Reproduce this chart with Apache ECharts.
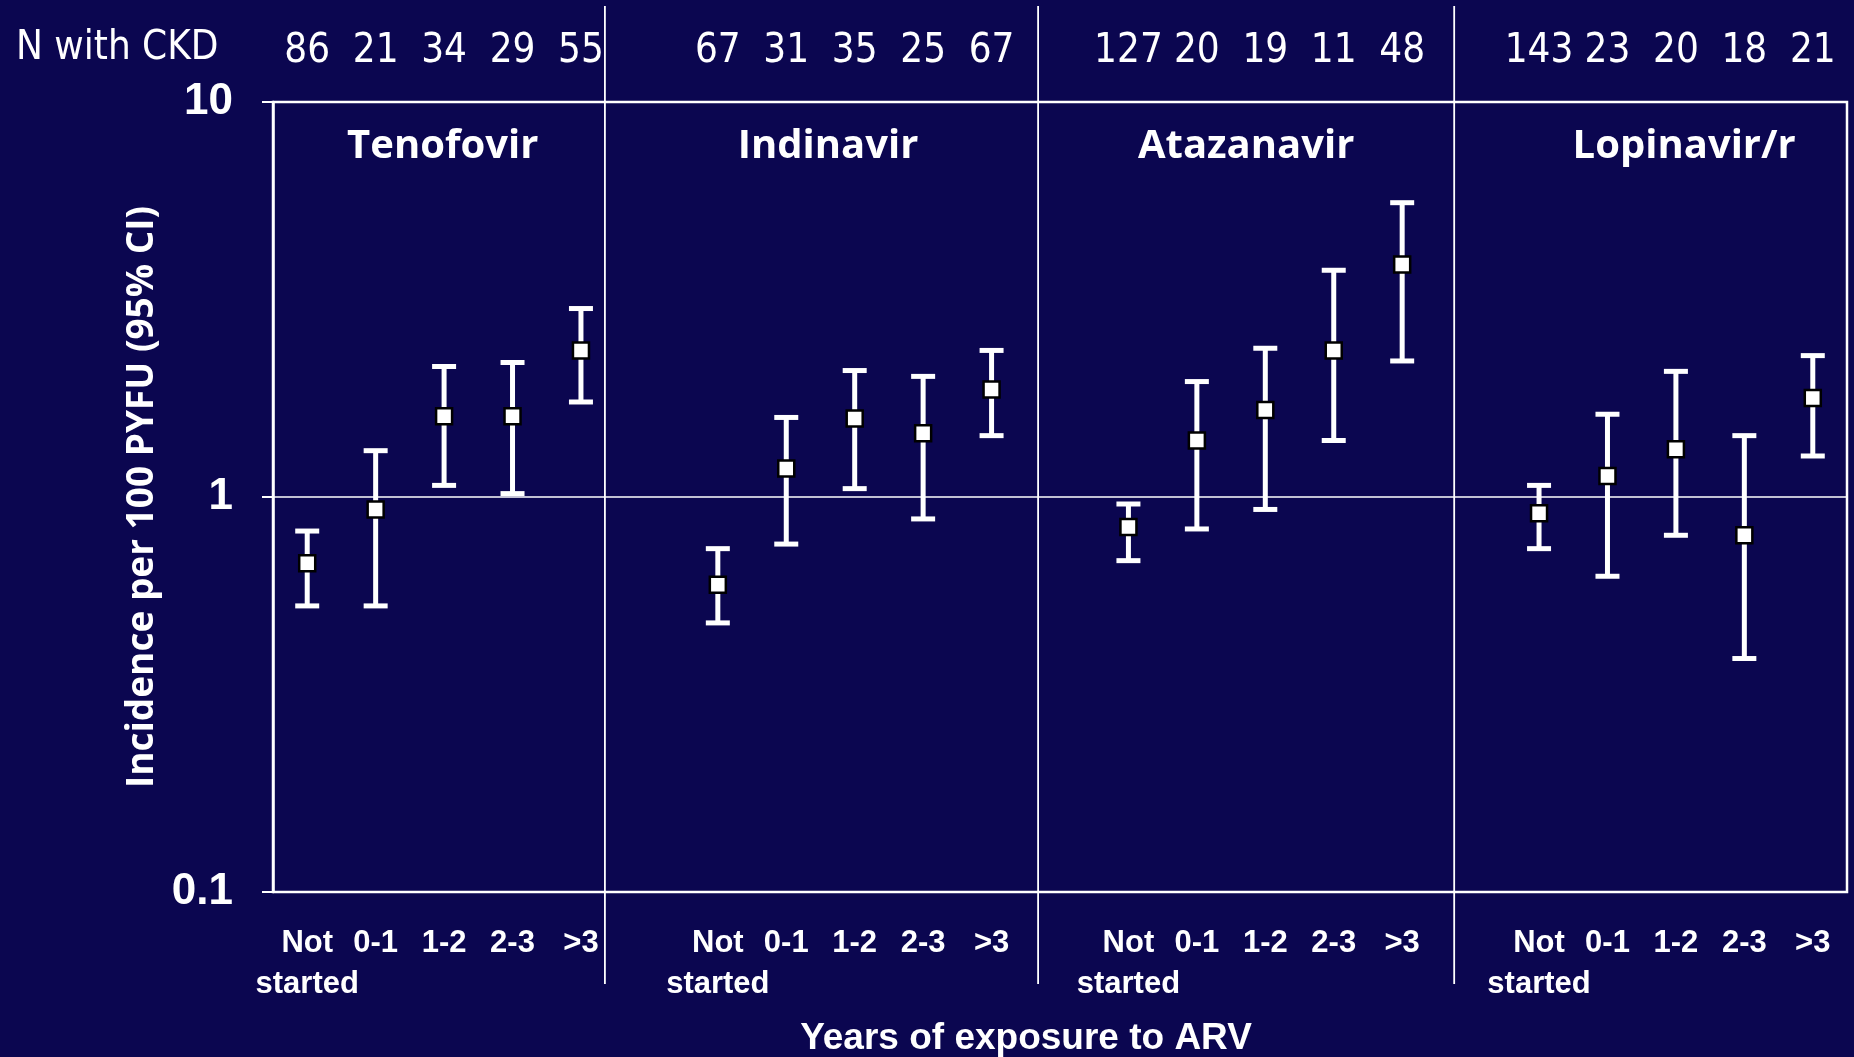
<!DOCTYPE html>
<html><head><meta charset="utf-8">
<script src="https://cdn.jsdelivr.net/npm/echarts@6/dist/echarts.min.js"></script>
<style>html,body{margin:0;padding:0;background:#0b0650;}#chart{width:1854px;height:1057px;}</style>
</head><body><div id="chart"></div>
<script>
// ---- data ----
const drugs = ['Tenofovir', 'Indinavir', 'Atazanavir', 'Lopinavir/r'];
const exposureCats = ['Not\nstarted', '0-1', '1-2', '2-3', '>3'];
const nTenofovir = [86, 21, 34, 29, 55];
const nIndinavir = [67, 31, 35, 25, 67];
const nAtazanavir = [127, 20, 19, 11, 48];
const nLopinavir = [143, 23, 20, 18, 21];
const estTenofovir = [0.68, 0.93, 1.60, 1.60, 2.35];
const loTenofovir  = [0.53, 0.53, 1.07, 1.02, 1.74];
const hiTenofovir  = [0.82, 1.31, 2.14, 2.19, 3.00];
const estIndinavir = [0.60, 1.18, 1.58, 1.45, 1.87];
const loIndinavir  = [0.48, 0.76, 1.05, 0.88, 1.43];
const hiIndinavir  = [0.74, 1.59, 2.09, 2.02, 2.35];
const estAtazanavir = [0.84, 1.39, 1.66, 2.35, 3.88];
const loAtazanavir  = [0.69, 0.83, 0.93, 1.39, 2.21];
const hiAtazanavir  = [0.96, 1.96, 2.38, 3.75, 5.56];
const estLopinavir = [0.91, 1.13, 1.32, 0.80, 1.78];
const loLopinavir  = [0.74, 0.63, 0.80, 0.39, 1.27];
const hiLopinavir  = [1.07, 1.62, 2.08, 1.43, 2.28];
const yTickLabels = ['0.1', '1', '10'];
const rowLabel = 'N with CKD';
const yAxisTitle = 'Incidence per 100 PYFU (95% CI)';
const xAxisTitle = 'Years of exposure to ARV';

// ---- layout constants (positions on a 0..23 slot scale) ----
const dividerSlots = [4.85, 11.18, 17.26];
const titleSlots = [2.48, 8.11, 14.22, 20.62];

// ---- build ----
const ns = [nTenofovir, nIndinavir, nAtazanavir, nLopinavir];
const ests = [estTenofovir, estIndinavir, estAtazanavir, estLopinavir];
const los = [loTenofovir, loIndinavir, loAtazanavir, loLopinavir];
const his = [hiTenofovir, hiIndinavir, hiAtazanavir, hiLopinavir];
const categories = [], nLabels = [], bars = [];
drugs.forEach((d, g) => {
  if (g > 0) { categories.push(''); nLabels.push(''); }
  exposureCats.forEach((c, i) => {
    const idx = categories.length;
    categories.push(c);
    nLabels.push(String(ns[g][i]));
    bars.push([idx, los[g][i], his[g][i], ests[g][i]]);
  });
});

const W = '#ffffff';
const chart = echarts.init(document.getElementById('chart'));
chart.setOption({
  backgroundColor: '#0b0650',
  animation: false,
  grid: { left: 273, right: 7, top: 102, bottom: 165, show: true, borderColor: W, borderWidth: 2.5, backgroundColor: 'transparent' },
  graphic: [
    { type: 'text', left: 16, top: 29, style: { text: rowLabel, fill: W, font: '40px "Liberation Sans Narrow", "DejaVu Sans Condensed", sans-serif' } },
    { type: 'text', x: 1026, y: 1039, style: { text: xAxisTitle, fill: W, font: 'bold 37px "Liberation Sans", Arial, sans-serif', align: 'center', verticalAlign: 'middle' } }
  ],
  xAxis: [
    { type: 'category', data: categories, position: 'bottom', boundaryGap: true,
      axisLine: { show: false }, axisTick: { show: false }, splitLine: { show: false },
      axisLabel: { interval: 0, color: W, fontFamily: '"Liberation Sans", Arial, sans-serif', fontWeight: 'bold', fontSize: 31, lineHeight: 41, margin: 31 } },
    { type: 'category', data: nLabels, position: 'top', boundaryGap: true,
      axisLine: { show: false }, axisTick: { show: false }, splitLine: { show: false },
      axisLabel: { interval: 0, color: W, fontFamily: '"Liberation Sans Narrow", "DejaVu Sans Condensed", sans-serif', fontSize: 40, margin: 30 } },
    { type: 'value', min: 0, max: 23, show: false, position: 'bottom' }
  ],
  yAxis: {
    type: 'log', logBase: 10, min: 0.1, max: 10,
    name: yAxisTitle, nameLocation: 'middle', nameRotate: 90, nameGap: 98,
    nameTextStyle: { color: W, fontFamily: '"Open Sans", sans-serif', fontWeight: 'bold', fontSize: 37, padding: [0, 0, 10, 0] },
    axisLine: { show: true, lineStyle: { color: W, width: 2.5 } },
    axisTick: { show: true, inside: false, length: 11, lineStyle: { color: W, width: 2 } },
    splitLine: { show: true, lineStyle: { color: W, width: 1.5 } },
    axisLabel: { color: W, fontFamily: '"Liberation Sans", Arial, sans-serif', fontWeight: 'bold', fontSize: 44, margin: 40,
      formatter: v => yTickLabels[Math.round(Math.log10(v)) + 1] }
  },
  series: [
    { type: 'custom', xAxisIndex: 2, yAxisIndex: 0, clip: false, silent: true,
      data: dividerSlots.map(v => [v, 1]),
      renderItem: (params, api) => {
        const t = api.coord([api.value(0), 10]);
        const b = api.coord([api.value(0), 0.1]);
        return { type: 'line', shape: { x1: t[0], y1: t[1] - 96, x2: b[0], y2: b[1] + 92 }, style: { stroke: W, lineWidth: 1.8 } };
      } },
    { type: 'custom', xAxisIndex: 2, yAxisIndex: 0, clip: false, silent: true,
      data: titleSlots.map(v => [v, 10]),
      renderItem: (params, api) => {
        const t = api.coord([api.value(0), 10]);
        return { type: 'text', x: t[0], y: t[1] + 45, style: { text: drugs[params.dataIndex], fill: W,
          font: 'bold 40px "Open Sans", sans-serif', align: 'center', verticalAlign: 'middle' } };
      } },
    { type: 'custom', xAxisIndex: 0, yAxisIndex: 0, clip: false, silent: true,
      encode: { x: 0, y: [1, 2, 3] },
      data: bars,
      renderItem: (params, api) => {
        const x = api.value(0);
        const lo = api.coord([x, api.value(1)]);
        const hi = api.coord([x, api.value(2)]);
        const mid = api.coord([x, api.value(3)]);
        const cap = 12, sq = 8;
        const ls = { stroke: W, lineWidth: 5 };
        return { type: 'group', children: [
          { type: 'line', shape: { x1: lo[0], y1: lo[1], x2: hi[0], y2: hi[1] }, style: ls },
          { type: 'line', shape: { x1: hi[0] - cap, y1: hi[1], x2: hi[0] + cap, y2: hi[1] }, style: ls },
          { type: 'line', shape: { x1: lo[0] - cap, y1: lo[1], x2: lo[0] + cap, y2: lo[1] }, style: ls },
          { type: 'rect', shape: { x: mid[0] - sq, y: mid[1] - sq, width: 2 * sq, height: 2 * sq }, style: { fill: W, stroke: '#000', lineWidth: 2.5 } }
        ] };
      } }
  ]
});
</script></body></html>
